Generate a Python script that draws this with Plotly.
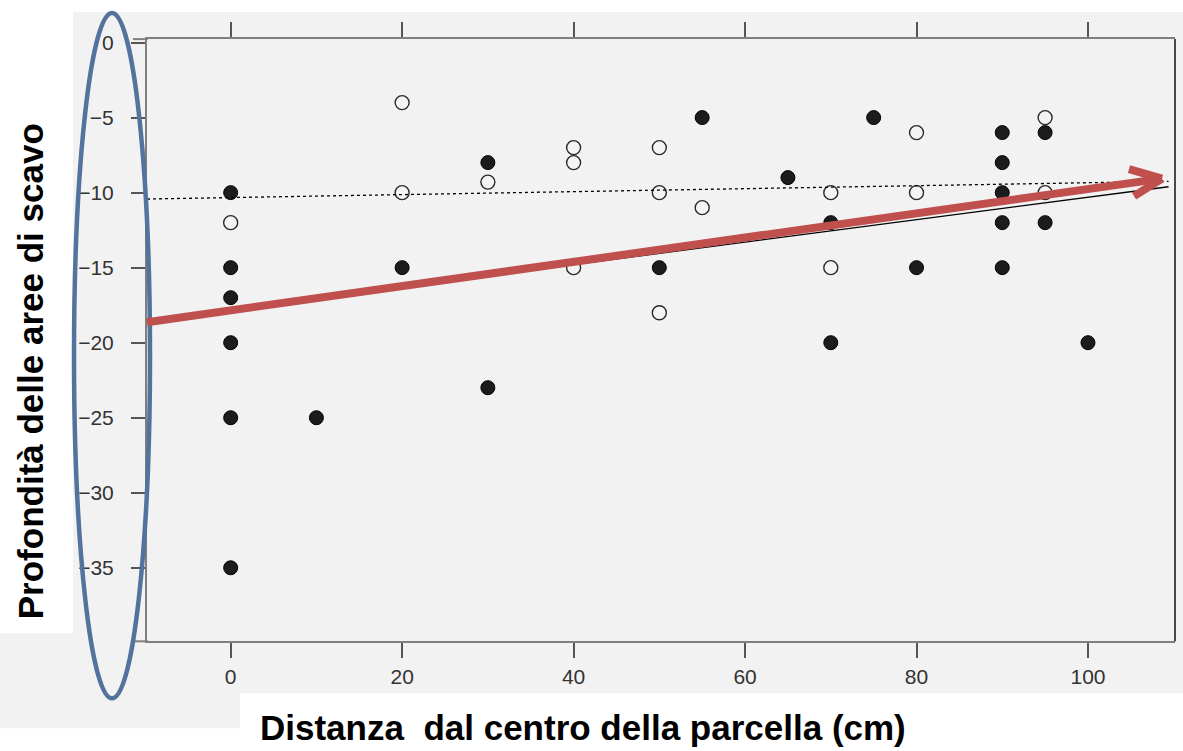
import plotly.graph_objects as go

W, H = 1183, 751

# ---- data ----
filled_x = [0, 0, 0, 0, 0, 0, 10, 20, 30, 30, 50, 55, 65, 70, 70, 75, 80, 90, 90, 90, 90, 90, 95, 95, 100]
filled_y = [-10, -15, -17, -20, -25, -35, -25, -15, -8, -23, -15, -5, -9, -12, -20, -5, -15, -6, -8, -10, -12, -15, -6, -12, -20]

open_x = [0, 20, 20, 30, 40, 40, 40, 50, 50, 50, 55, 70, 70, 80, 80, 95, 95]
open_y = [-12, -4, -10, -9.3, -7, -8, -15, -7, -10, -18, -11, -10, -15, -6, -10, -5, -10]

# fitted trend lines (intercept, slope)
solid_fit = (-17.79, 0.0748)
dotted_fit = (-10.33, 0.0099)
fit_x = [-9.76, 109.4]

x_ticks = [0, 20, 40, 60, 80, 100]
y_ticks = [0, -5, -10, -15, -20, -25, -30, -35, -40]

x_title = "Distanza&nbsp;&nbsp;dal centro della parcella (cm)"
y_title = "Profondità delle aree di scavo"

# vertical calibration of the rendered page (observed offset / scale)
Y_OFF, Y_SCALE = 7.9, 0.989


def px(x):
    return x / W


def py(y):
    return 1 - ((y - Y_OFF) / Y_SCALE) / H


fig = go.Figure()

fig.add_trace(go.Scatter(
    x=filled_x, y=filled_y, mode="markers",
    marker=dict(size=14, color="#1c1c1c", line=dict(color="#000000", width=1)),
    showlegend=False, hoverinfo="x+y"))

fig.add_trace(go.Scatter(
    x=open_x, y=open_y, mode="markers",
    marker=dict(size=14, color="#f4f4f4", line=dict(color="#2a2a2a", width=1.4)),
    showlegend=False, hoverinfo="x+y"))

fig.add_trace(go.Scatter(
    x=fit_x, y=[solid_fit[0] + solid_fit[1] * v for v in fit_x], mode="lines",
    line=dict(color="#000000", width=1.3), showlegend=False, hoverinfo="skip"))

fig.add_trace(go.Scatter(
    x=fit_x, y=[dotted_fit[0] + dotted_fit[1] * v for v in fit_x], mode="lines",
    line=dict(color="#000000", width=1.3, dash="dot"), showlegend=False, hoverinfo="skip"))

tick_font = dict(family="Liberation Sans, Arial, sans-serif", size=21, color="#333333")
title_font = dict(family="Liberation Sans, Arial, sans-serif", size=35, color="#000000")

shapes = [
    # gray panel
    dict(type="rect", xref="paper", yref="paper", x0=px(0), x1=px(W), y0=py(728), y1=py(12),
         fillcolor="#f2f2f2", line=dict(width=0), layer="below"),
    # white title boxes
    dict(type="rect", xref="paper", yref="paper", x0=px(0), x1=px(73), y0=py(633), y1=py(12),
         fillcolor="#ffffff", line=dict(width=0), layer="below"),
    dict(type="rect", xref="paper", yref="paper", x0=px(240), x1=px(W), y0=py(H + 5), y1=py(693),
         fillcolor="#ffffff", line=dict(width=0), layer="below"),
    # right frame line
    dict(type="line", xref="paper", yref="paper", x0=px(1175), x1=px(1175), y0=py(641), y1=py(39),
         line=dict(color="#111111", width=1.5), layer="above"),
    # top/bottom line extensions
    dict(type="line", xref="paper", yref="paper", x0=px(133), x1=px(148), y0=py(39), y1=py(39),
         line=dict(color="#7f7f7f", width=2), layer="above"),
    dict(type="line", xref="paper", yref="paper", x0=px(133), x1=px(148), y0=py(641), y1=py(641),
         line=dict(color="#7f7f7f", width=2), layer="above"),
    # blue ellipse
    dict(type="circle", xref="paper", yref="paper", x0=px(74), x1=px(150), y0=py(698), y1=py(13),
         line=dict(color="#52739d", width=4.5), fillcolor="rgba(0,0,0,0)", layer="above"),
    # red arrow shaft and head
    dict(type="line", xref="paper", yref="paper", x0=px(147), y0=py(322), x1=px(1158), y1=py(179),
         line=dict(color="#c0504d", width=8), layer="above"),
    dict(type="line", xref="paper", yref="paper", x0=px(1129), y0=py(169), x1=px(1162), y1=py(178.5),
         line=dict(color="#c0504d", width=8), layer="above"),
    dict(type="line", xref="paper", yref="paper", x0=px(1134), y0=py(196), x1=px(1162), y1=py(178.5),
         line=dict(color="#c0504d", width=8), layer="above"),
]

annotations = [
    dict(text=f"<b>{y_title}</b>", xref="paper", yref="paper", x=px(30), y=py(371), textangle=-90,
         showarrow=False, font=title_font, xanchor="center", yanchor="middle"),
    dict(text=f"<b>{x_title}</b>", xref="paper", yref="paper", x=px(583), y=py(727),
         showarrow=False, font=title_font, xanchor="center", yanchor="middle"),
]

fig.update_layout(
    width=W, height=H, autosize=False,
    margin=dict(l=0, r=0, t=0, b=0, pad=0),
    paper_bgcolor="#ffffff", plot_bgcolor="#f2f2f2",
    shapes=shapes, annotations=annotations, showlegend=False,
    xaxis=dict(domain=[px(147), px(1175)], range=[-9.76, 110.15], tickvals=x_ticks,
               ticks="outside", ticklen=15, tickwidth=1.5, tickcolor="#555555",
               showline=True, linecolor="#7f7f7f", linewidth=2, mirror="ticks",
               showgrid=False, zeroline=False, tickfont=tick_font, ticklabelstandoff=0),
    yaxis=dict(domain=[py(641), py(39)], range=[-39.9, 0.23], tickvals=y_ticks,
               ticks="outside", ticklen=14, tickwidth=1.5, tickcolor="#555555",
               showline=True, linecolor="#7f7f7f", linewidth=2, mirror=False,
               showgrid=False, zeroline=False, tickfont=tick_font, ticklabelstandoff=13),
)

fig.write_html("out.html", config={"displayModeBar": False},
               post_script="document.body.style.margin='0';document.body.style.overflow='hidden';")
